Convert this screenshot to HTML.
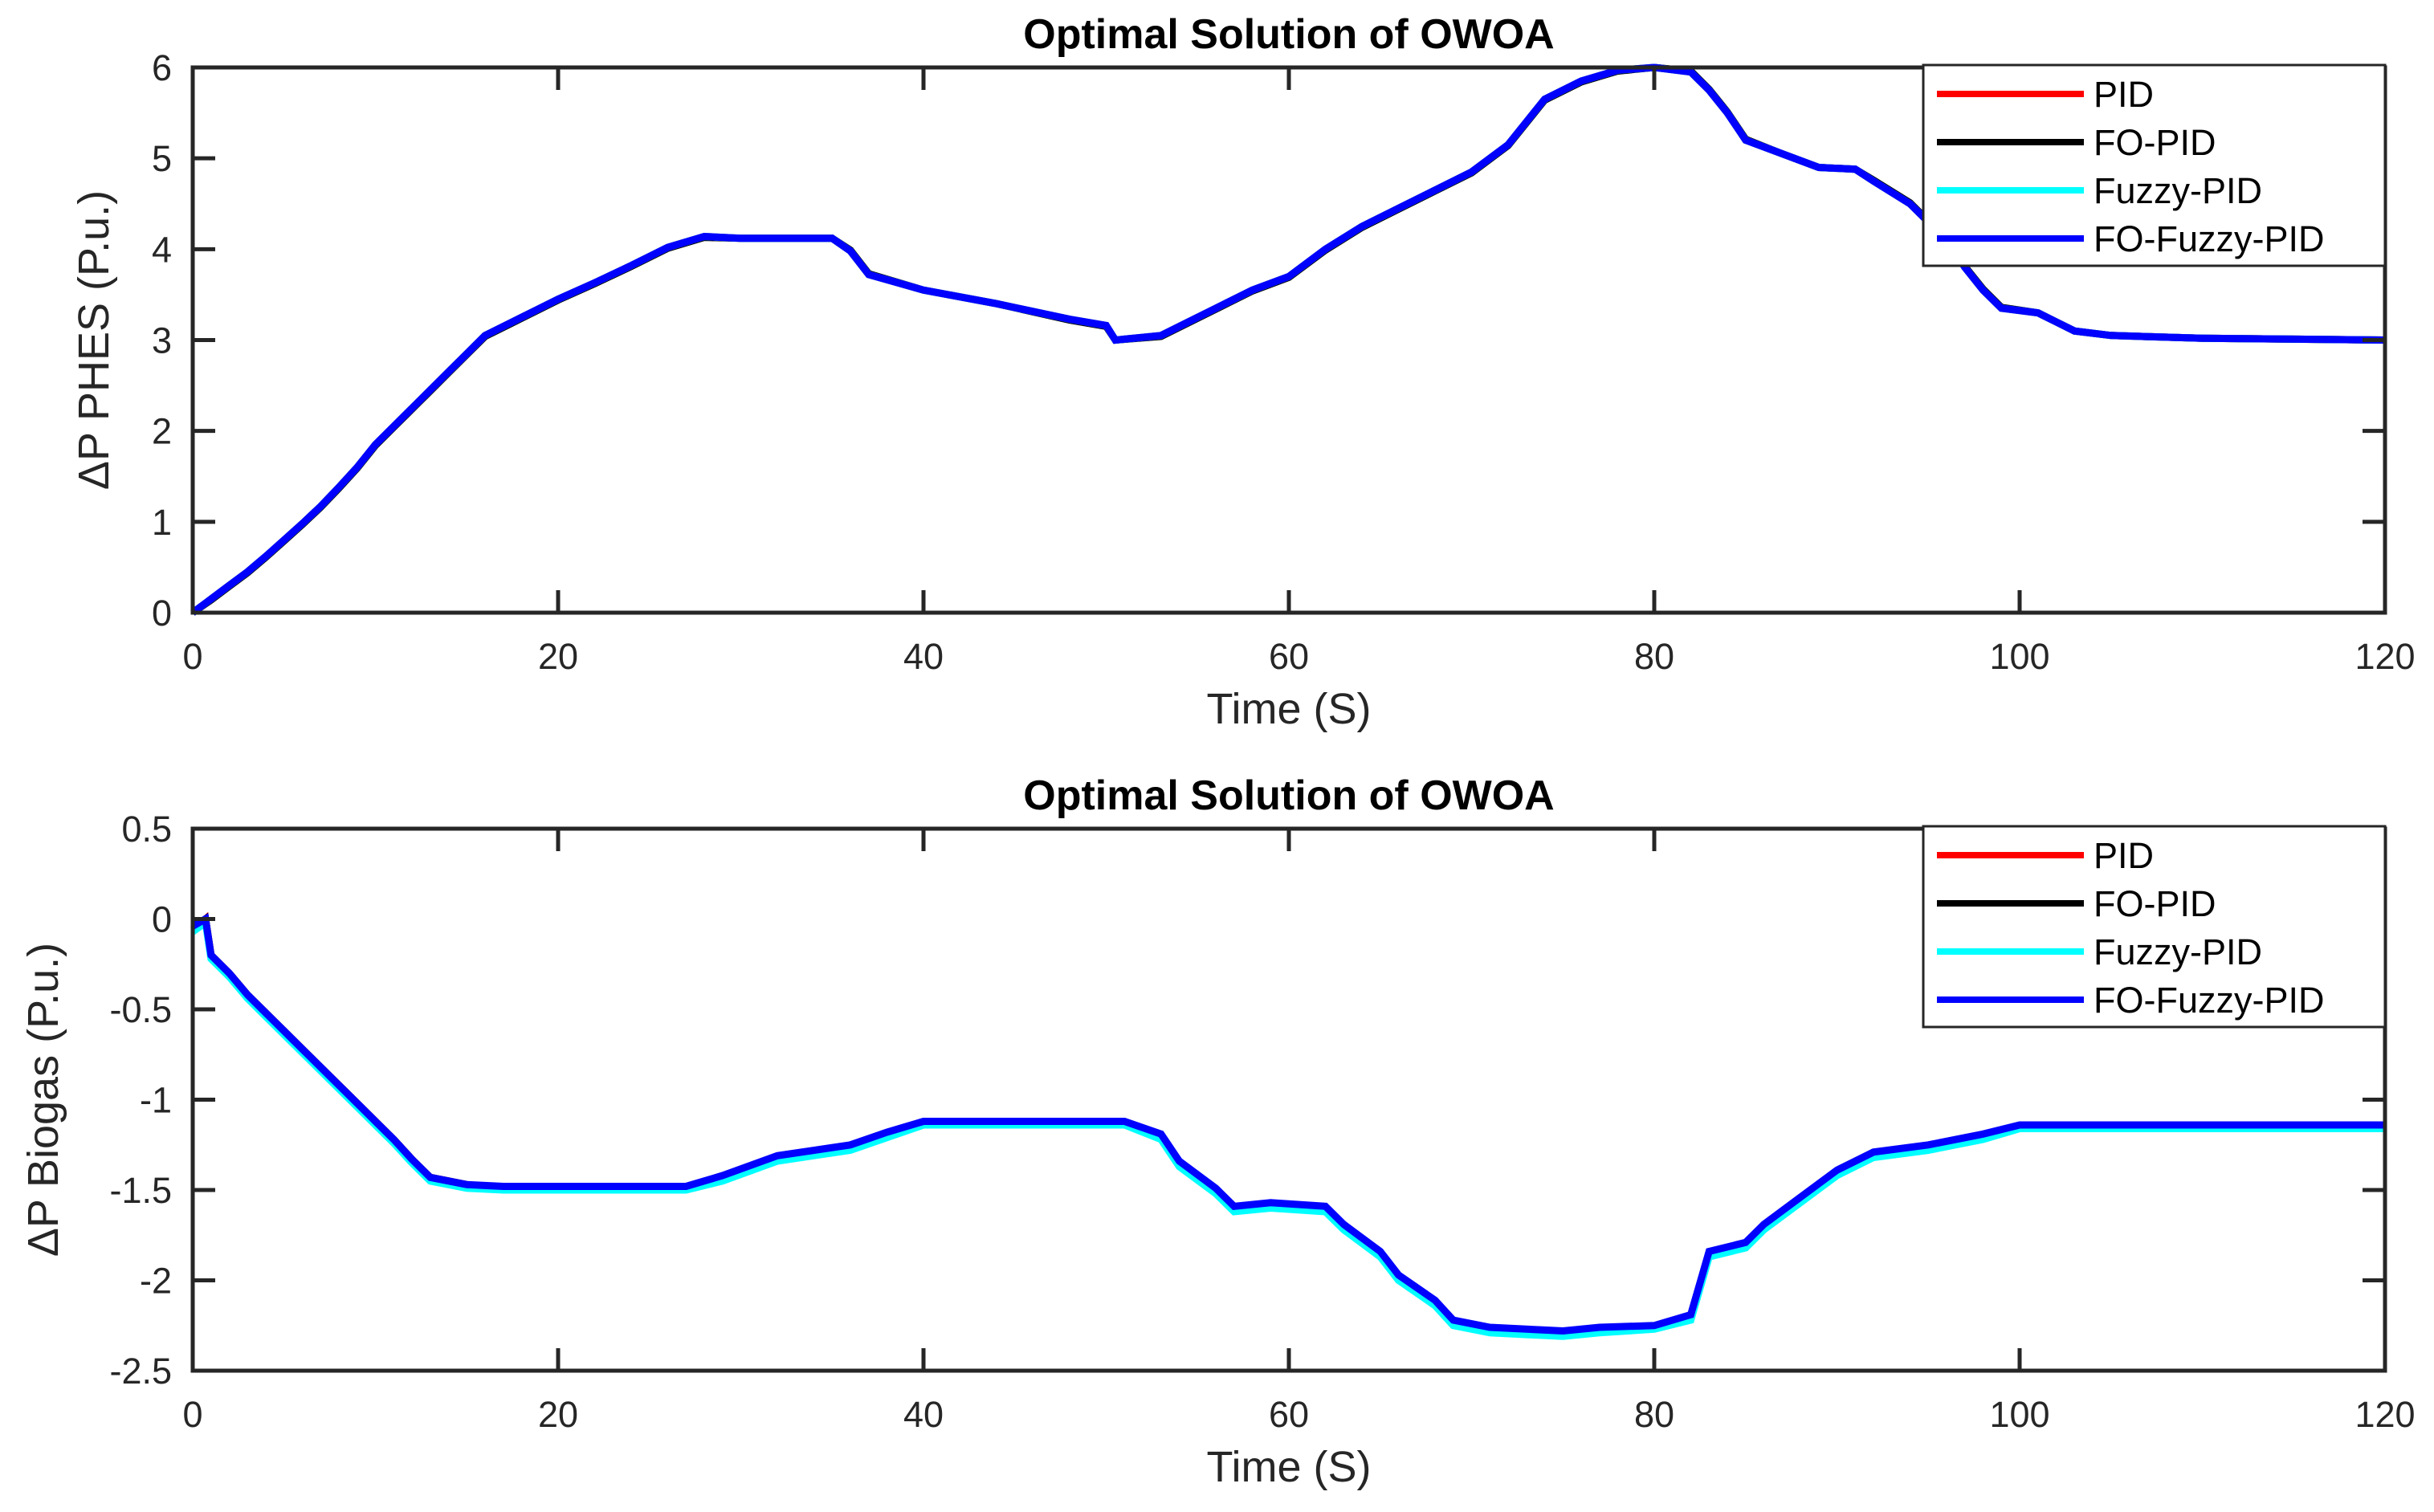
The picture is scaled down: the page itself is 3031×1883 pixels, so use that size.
<!DOCTYPE html>
<html><head><meta charset="utf-8">
<style>
html,body{margin:0;padding:0;background:#fff;}
svg{display:block;font-family:"Liberation Sans",sans-serif;}
</style></head>
<body>
<svg id="chart" width="3031" height="1883" viewBox="0 0 3031 1883" xmlns="http://www.w3.org/2000/svg"></svg>
<script>
// ---- data ----
const xTicks = [0,20,40,60,80,100,120];
const yTicksTop = [0,1,2,3,4,5,6];
const yTicksBot = [0.5,0,-0.5,-1,-1.5,-2,-2.5];
const yTickLabelsBot = ["0.5","0","-0.5","-1","-1.5","-2","-2.5"];
const seriesNames = ["PID","FO-PID","Fuzzy-PID","FO-Fuzzy-PID"];
const seriesColors = ["#ff0000","#000000","#00ffff","#0000ff"];

const phesT = [0,1,2,3,4,5,6,7,8,9,10,11,12,13,14,15,16,18,20,22,24,26,28,30,35,36,37,40,44,48,50,50.5,53,55,58,60,62,64,66,68,70,72,73,74,76,78,80,82,83,84,85,87,89,91,92,94,96,97,98,99,101,102,103,105,110,120];
const phesPID    = [0,0.15,0.3,0.45,0.62,0.8,0.98,1.17,1.38,1.6,1.85,2.05,2.25,2.45,2.65,2.85,3.05,3.25,3.45,3.63,3.82,4.02,4.14,4.12,4.12,3.98,3.72,3.55,3.4,3.23,3.16,3.0,3.05,3.25,3.55,3.7,4.0,4.25,4.45,4.65,4.85,5.15,5.4,5.65,5.85,5.97,6.0,5.95,5.75,5.5,5.2,5.05,4.9,4.88,4.75,4.5,4.1,3.8,3.55,3.35,3.3,3.2,3.1,3.05,3.02,3.0];
const phesFOPID  = [0,0.14,0.29,0.44,0.61,0.79,0.97,1.16,1.37,1.59,1.84,2.04,2.24,2.44,2.64,2.84,3.04,3.24,3.44,3.62,3.81,4.01,4.13,4.12,4.12,3.99,3.73,3.55,3.4,3.22,3.15,3.0,3.04,3.24,3.54,3.69,3.99,4.24,4.44,4.64,4.84,5.14,5.39,5.64,5.84,5.96,6.0,5.96,5.76,5.51,5.21,5.05,4.9,4.88,4.76,4.51,4.11,3.81,3.56,3.36,3.3,3.2,3.1,3.05,3.02,3.0];
const phesFuzzy  = [0,0.15,0.3,0.45,0.62,0.8,0.98,1.17,1.38,1.6,1.85,2.05,2.25,2.45,2.65,2.85,3.05,3.25,3.45,3.63,3.82,4.02,4.14,4.12,4.12,3.98,3.72,3.55,3.4,3.23,3.16,3.0,3.05,3.25,3.55,3.7,4.0,4.25,4.45,4.65,4.85,5.15,5.4,5.65,5.85,5.97,6.0,5.95,5.75,5.5,5.2,5.05,4.9,4.88,4.75,4.5,4.1,3.8,3.55,3.35,3.3,3.2,3.1,3.05,3.02,3.0];
const phesFOFuzzy= [0,0.15,0.3,0.45,0.62,0.8,0.98,1.17,1.38,1.6,1.85,2.05,2.25,2.45,2.65,2.85,3.05,3.25,3.45,3.63,3.82,4.02,4.14,4.12,4.12,3.98,3.72,3.55,3.4,3.23,3.16,3.0,3.05,3.25,3.55,3.7,4.0,4.25,4.45,4.65,4.85,5.15,5.4,5.65,5.85,5.97,6.0,5.95,5.75,5.5,5.2,5.05,4.9,4.88,4.75,4.5,4.1,3.8,3.55,3.35,3.3,3.2,3.1,3.05,3.02,3.0];

const bioT = [0,0.7,1,2,3,4,5,6,7,8,9,10,11,12,13,15,17,27,29,32,36,38,40,51,53,54,56,57,59,62,63,65,66,68,69,71,75,77,80,82,83,85,86,88,90,92,95,98,100,120];
const bioPID     = [-0.06,0,-0.2,-0.3,-0.42,-0.52,-0.62,-0.72,-0.82,-0.92,-1.02,-1.12,-1.22,-1.33,-1.43,-1.47,-1.49,-1.49,-1.43,-1.32,-1.26,-1.19,-1.13,-1.13,-1.2,-1.35,-1.5,-1.6,-1.58,-1.6,-1.7,-1.85,-1.98,-2.12,-2.23,-2.27,-2.29,-2.27,-2.26,-2.2,-1.85,-1.8,-1.7,-1.55,-1.4,-1.3,-1.26,-1.2,-1.15,-1.15];
const bioFOPID   = [-0.05,0,-0.2,-0.3,-0.42,-0.52,-0.62,-0.72,-0.82,-0.92,-1.02,-1.12,-1.22,-1.33,-1.43,-1.47,-1.49,-1.49,-1.43,-1.32,-1.26,-1.19,-1.13,-1.13,-1.2,-1.35,-1.5,-1.6,-1.58,-1.6,-1.7,-1.85,-1.98,-2.12,-2.23,-2.27,-2.29,-2.27,-2.26,-2.2,-1.85,-1.8,-1.7,-1.55,-1.4,-1.3,-1.26,-1.2,-1.15,-1.15];
const bioFuzzy   = [-0.07,-0.02,-0.22,-0.32,-0.44,-0.54,-0.64,-0.74,-0.84,-0.94,-1.04,-1.14,-1.24,-1.35,-1.45,-1.49,-1.5,-1.5,-1.45,-1.34,-1.28,-1.21,-1.14,-1.14,-1.22,-1.37,-1.52,-1.62,-1.6,-1.62,-1.72,-1.87,-2.0,-2.14,-2.25,-2.29,-2.31,-2.29,-2.27,-2.22,-1.87,-1.82,-1.72,-1.57,-1.42,-1.32,-1.28,-1.22,-1.16,-1.16];
const bioFOFuzzy = [-0.04,0,-0.2,-0.3,-0.42,-0.52,-0.62,-0.72,-0.82,-0.92,-1.02,-1.12,-1.22,-1.33,-1.43,-1.47,-1.48,-1.48,-1.42,-1.31,-1.25,-1.18,-1.12,-1.12,-1.19,-1.34,-1.49,-1.59,-1.57,-1.59,-1.69,-1.84,-1.97,-2.11,-2.22,-2.26,-2.28,-2.26,-2.25,-2.19,-1.84,-1.79,-1.69,-1.54,-1.39,-1.29,-1.25,-1.19,-1.14,-1.14];

const NS = "http://www.w3.org/2000/svg";
const svg = document.getElementById('chart');
function mk(tag, attrs, parent){ const e=document.createElementNS(NS,tag); for(const k in attrs) e.setAttribute(k,attrs[k]); (parent||svg).appendChild(e); return e; }

function drawPanel(cfg){
  const L=240,R=2970,T=cfg.top,B=cfg.bottom;
  const g = mk('g',{});
  
  
  const xs = v => L + (v-0)/(120-0)*(R-L);
  const ys = v => B - (v-cfg.ymin)/(cfg.ymax-cfg.ymin)*(B-T);
  const title = mk('text',{x:1605,y:T-24,'font-size':52,'font-weight':'bold','text-anchor':'middle',fill:'#000'},g);
  title.textContent = 'Optimal Solution of OWOA';
  
  
  cfg.series.forEach((vals,i)=>{
    let d='';
    cfg.t.forEach((t,j)=>{ d += (j?'L':'M') + xs(t).toFixed(1)+','+ys(vals[j]).toFixed(1)+' '; });
    const p = mk('path',{d:d,fill:'none',stroke:seriesColors[i],'stroke-width':9,'stroke-linejoin':'miter'},g);
    
    
  });
  const box = mk('rect',{x:L,y:T,width:R-L,height:B-T,fill:'none',stroke:'#262626','stroke-width':5},g);
  
  
  xTicks.forEach(v=>{
    const x=xs(v);
    mk('line',{x1:x,y1:B,x2:x,y2:B-28,stroke:'#262626','stroke-width':5},g);
    mk('line',{x1:x,y1:T,x2:x,y2:T+28,stroke:'#262626','stroke-width':5},g);
    const tl = mk('text',{x:x,y:B+70,'font-size':45,'text-anchor':'middle',fill:'#262626'},g);
    tl.textContent = v;
    
    
  });
  cfg.yticks.forEach((v,i)=>{
    const y=ys(v);
    mk('line',{x1:L,y1:y,x2:L+28,y2:y,stroke:'#262626','stroke-width':5},g);
    mk('line',{x1:R,y1:y,x2:R-28,y2:y,stroke:'#262626','stroke-width':5},g);
    const tl = mk('text',{x:L-26,y:y+16,'font-size':45,'text-anchor':'end',fill:'#262626'},g);
    tl.textContent = cfg.ylabels[i];
    
    
  });
  const xt = mk('text',{x:1605,y:B+138,'font-size':54,'text-anchor':'middle',fill:'#262626'},g);
  xt.textContent='Time (S)';
  
  
  const yt = mk('text',{x:0,y:0,'font-size':54,'text-anchor':'middle',fill:'#262626',transform:`translate(${cfg.ylx},${(T+B)/2}) rotate(-90)`},g);
  yt.textContent=cfg.ylabel;
  
  
  const lg = mk('g',{},g);
  
  
  mk('rect',{x:2395,y:T-3,width:575,height:250,fill:'#fff',stroke:'#262626','stroke-width':3},lg);
  seriesNames.forEach((n,i)=>{
    const y=T+33+i*60;
    const e = mk('g',{},lg);
    
    
    mk('line',{x1:2412,y1:y,x2:2595,y2:y,stroke:seriesColors[i],'stroke-width':8},e);
    const t = mk('text',{x:2607,y:y+16,'font-size':45,fill:'#000'},e);
    t.textContent=n;
  });
}
drawPanel({name:'phes-panel',top:84,bottom:763,ymin:0,ymax:6,yticks:yTicksTop,ylabels:yTicksTop.map(String),ylabel:'ΔP PHES (P.u.)',ylx:135,t:phesT,series:[phesPID,phesFOPID,phesFuzzy,phesFOFuzzy]});
drawPanel({name:'biogas-panel',top:1032,bottom:1707,ymin:-2.5,ymax:0.5,yticks:yTicksBot,ylabels:yTickLabelsBot,ylabel:'ΔP Biogas (P.u.)',ylx:72,t:bioT,series:[bioPID,bioFOPID,bioFuzzy,bioFOFuzzy]});
</script>
</body></html>
